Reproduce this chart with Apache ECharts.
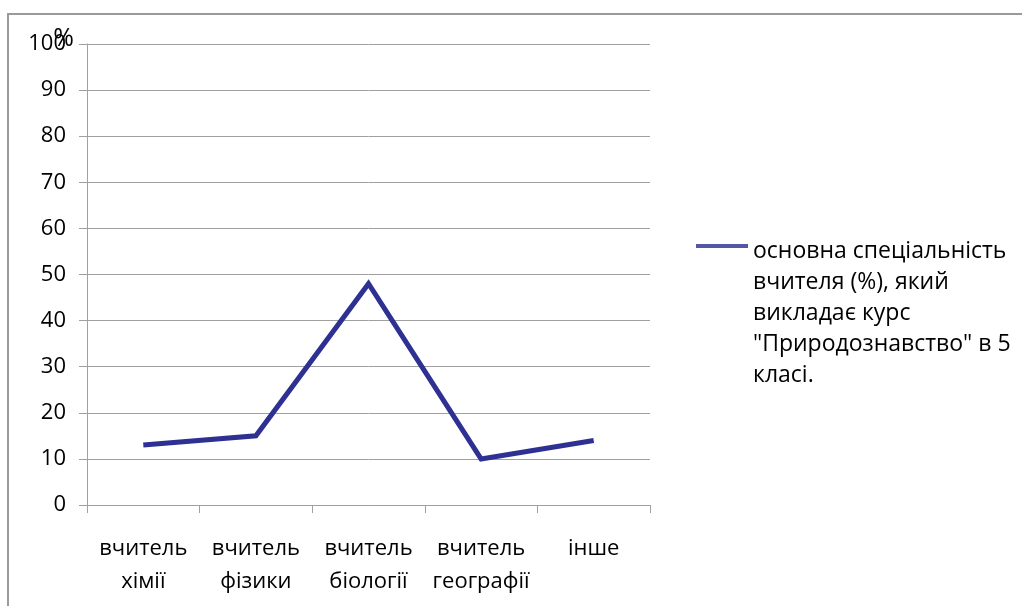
<!DOCTYPE html>
<html>
<head>
<meta charset="utf-8">
<script src="https://cdn.jsdelivr.net/npm/echarts@6/dist/echarts.min.js"></script>
<style>
  html, body { margin: 0; padding: 0; background: #fff; }
  #chart { width: 1022px; height: 606px; }
</style>
</head>
<body>
<div id="chart"></div>
<script>
// Teachers' main specialty for the 5th-grade "Природознавство" course
const categories = ['вчитель\nхімії', 'вчитель\nфізики', 'вчитель\nбіології', 'вчитель\nгеографії', 'інше'];
const shares = [13, 15, 48, 10, 14];
const seriesName = 'основна спеціальність\nвчителя (%), який\nвикладає курс\n"Природознавство" в 5\nкласі.';
const yTicks = { min: 0, max: 100, interval: 10 };

const FONT = '"Open Sans", "Noto Sans", sans-serif';
const GRID_GREY = '#a0a0a0';
const LEGEND_LINE = 31;
const LEGEND_LINES = 5;
const LEGEND_DROP = 10; // caption sits slightly below its swatch

const chart = echarts.init(document.getElementById('chart'), null, { renderer: 'canvas' });

chart.setOption({
  animation: false,
  backgroundColor: '#ffffff',
  textStyle: { fontFamily: FONT, color: '#000' },
  graphic: [{
    type: 'rect',
    shape: { x: 8, y: 14, width: 1100, height: 700 },
    style: { fill: 'none', stroke: '#9a9a9a', lineWidth: 2 },
    silent: true,
    z: -1
  }],
  grid: { left: 87, right: 372, top: 44, bottom: 101, containLabel: false },
  legend: {
    data: [seriesName],
    orient: 'vertical',
    left: 691,
    // the legend text is centred on its swatch; blank lines in front keep
    // the swatch level with the first line of the caption
    top: 246 - ((2 * LEGEND_LINES - 1) * LEGEND_LINE + LEGEND_DROP) / 2 - 5,
    formatter: name => '{gap|}\n' + '\n'.repeat(LEGEND_LINES - 1) + name,
    icon: 'rect',
    itemWidth: 52,
    itemHeight: 4,
    itemGap: 0,
    itemStyle: { color: '#5458a4' },
    textStyle: {
      fontFamily: FONT,
      fontSize: 23,
      color: '#000',
      lineHeight: LEGEND_LINE,
      rich: {
        gap: { lineHeight: LEGEND_DROP, fontSize: 1 }
      }
    }
  },
  xAxis: {
    type: 'category',
    data: categories,
    boundaryGap: true,
    axisLine: { lineStyle: { color: GRID_GREY, width: 1 } },
    axisTick: { show: true, length: 8, alignWithLabel: false, lineStyle: { color: GRID_GREY } },
    axisLabel: {
      interval: 0,
      margin: 27,
      fontFamily: FONT,
      fontSize: 22,
      lineHeight: 33,
      color: '#000'
    }
  },
  yAxis: {
    type: 'value',
    min: yTicks.min,
    max: yTicks.max,
    interval: yTicks.interval,
    name: '%',
    nameLocation: 'end',
    nameGap: -7,
    nameMoveOverlap: false,
    nameTextStyle: {
      fontFamily: FONT,
      fontSize: 25,
      color: '#000',
      align: 'right',
      padding: [0, 13, 0, 0]
    },
    axisLine: { show: true, lineStyle: { color: GRID_GREY, width: 1 } },
    axisTick: { show: true, length: 8, lineStyle: { color: GRID_GREY } },
    axisLabel: { margin: 21, fontFamily: FONT, fontSize: 22, color: '#000' },
    splitLine: { show: true, lineStyle: { color: GRID_GREY, width: 1 } }
  },
  series: [{
    name: seriesName,
    type: 'line',
    data: shares,
    symbol: 'none',
    lineStyle: { color: '#2e3192', width: 5, join: 'miter' },
    itemStyle: { color: '#2e3192' }
  }]
});
</script>
</body>
</html>
